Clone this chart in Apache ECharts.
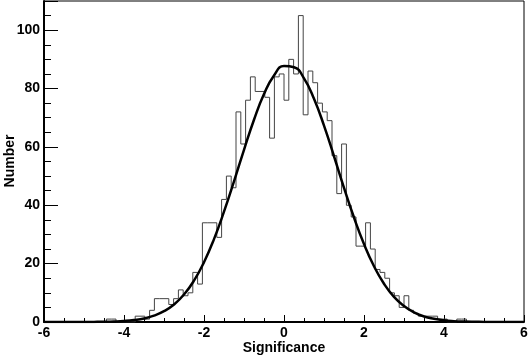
<!DOCTYPE html>
<html>
<head>
<meta charset="utf-8">
<script src="https://cdn.jsdelivr.net/npm/echarts@6/dist/echarts.min.js"></script>
<style>
  html, body { margin: 0; padding: 0; background: #fff; }
  #chart { width: 528px; height: 357px; }
</style>
</head>
<body>
<div id="chart"></div>
<script>
// histogram: 100 bins from -6 to 6
const binStart = -6
const binWidth = 0.12
const counts = [
  0, 0, 0, 0, 0, 0, 0, 0, 0, 0,
  0, 0, 0, 1, 1, 0, 0, 0, 0, 2,
  2, 1, 4, 8, 8, 8, 6, 8, 11, 9,
  10, 17, 13, 34, 34, 34, 29, 42, 50, 46,
  72, 61, 76, 84, 79, 79, 77, 63, 84, 85,
  76, 90, 85, 105, 71, 86, 82, 75, 72, 69,
  57, 44, 61, 40, 36, 26, 26, 34, 25, 18,
  17, 15, 10, 9, 5, 9, 4, 3, 2, 2,
  2, 2, 1, 1, 0, 0, 1, 1, 0, 0,
  0, 0, 0, 0, 0, 0, 0, 0, 0, 0,
]

// gaussian fit curve
const fitX = [
  -6, -5.75, -5.5, -5.25, -5, -4.75, -4.5, -4.25, -4, -3.75, -3.5, -3.25,
  -3, -2.75, -2.5, -2.25, -2, -1.75, -1.5, -1.25, -1, -0.75, -0.5, -0.25,
  0, 0.25, 0.5, 0.75, 1, 1.25, 1.5, 1.75, 2, 2.25, 2.5, 2.75,
  3, 3.25, 3.5, 3.75, 4, 4.25, 4.5, 4.75, 5, 5.25, 5.5, 5.75, 6,
]
const fitY = [
  0, 0, 0, 0.01, 0.02, 0.04, 0.08, 0.17, 0.34, 0.66, 1.2, 2.2,
  3.7, 6.0, 9.4, 14.2, 20.5, 28.4, 37.8, 48.2, 59.0, 69.3, 78.1, 84.5,
  87.7, 87.3, 83.5, 76.5, 67.3, 56.8, 46.0, 35.8, 26.7, 19.1, 13.1, 8.6,
  5.5, 3.3, 1.9, 1.1, 0.58, 0.3, 0.15, 0.07, 0.03, 0.01, 0, 0, 0,
]

const xTitle = 'Significance'
const yTitle = 'Number'

const chart = echarts.init(document.getElementById('chart'))

const histPoints = counts.map((c, i) => [binStart + i * binWidth, c])
histPoints.push([binStart + counts.length * binWidth, counts[counts.length - 1]])

const fitPoints = fitX.map((x, i) => [x, fitY[i]])

const font = 'Liberation Sans, Arial, sans-serif'
const titleFont = 'bold 14px Liberation Sans, Arial, sans-serif'

const options = {
  animation: false,
  grid: {
    left: 44,
    right: 4,
    top: 1,
    bottom: 35,
    outerBoundsMode: 'none',
    containLabel: false,
    show: true,
    borderColor: '#000',
    borderWidth: 1,
  },
  // axis titles placed by hand
  graphic: [
    {
      type: 'text',
      x: 10,
      y: 161,
      rotation: Math.PI / 2,
      style: { text: yTitle, font: titleFont, fill: '#000', align: 'center', verticalAlign: 'middle' },
    },
    {
      type: 'text',
      x: 284,
      y: 348,
      style: { text: xTitle, font: titleFont, fill: '#000', align: 'center', verticalAlign: 'middle' },
    },
  ],
  xAxis: {
    type: 'value',
    min: -6,
    max: 6,
    interval: 2,
    axisLine: { onZero: false, lineStyle: { color: '#000', width: 2 } },
    axisTick: { inside: true, length: 7, lineStyle: { color: '#000' } },
    minorTick: { show: true, splitNumber: 4, length: 4, lineStyle: { color: '#000' } },
    splitLine: { show: false },
    axisLabel: { color: '#000', fontFamily: font, fontWeight: 'bold', fontSize: 14, margin: 4 },
  },
  yAxis: {
    type: 'value',
    min: 0,
    max: 110,
    interval: 20,
    axisLine: { show: true, onZero: false, lineStyle: { color: '#000', width: 2 } },
    axisTick: { show: true, inside: true, length: 14, lineStyle: { color: '#000' } },
    minorTick: { show: true, splitNumber: 4, length: 7, lineStyle: { color: '#000' } },
    splitLine: { show: false },
    axisLabel: {
      color: '#000',
      fontFamily: font,
      fontWeight: 'bold',
      fontSize: 14,
      margin: 4,
      showMaxLabel: false,
    },
  },
  series: [
    {
      name: 'histogram',
      type: 'line',
      step: 'end',
      data: histPoints,
      showSymbol: false,
      lineStyle: { color: '#444', width: 1 },
      z: 2,
    },
    {
      name: 'fit',
      type: 'line',
      smooth: true,
      data: fitPoints,
      showSymbol: false,
      lineStyle: { color: '#000', width: 2.5 },
      z: 3,
    },
  ],
}

chart.setOption(options)
</script>
</body>
</html>
